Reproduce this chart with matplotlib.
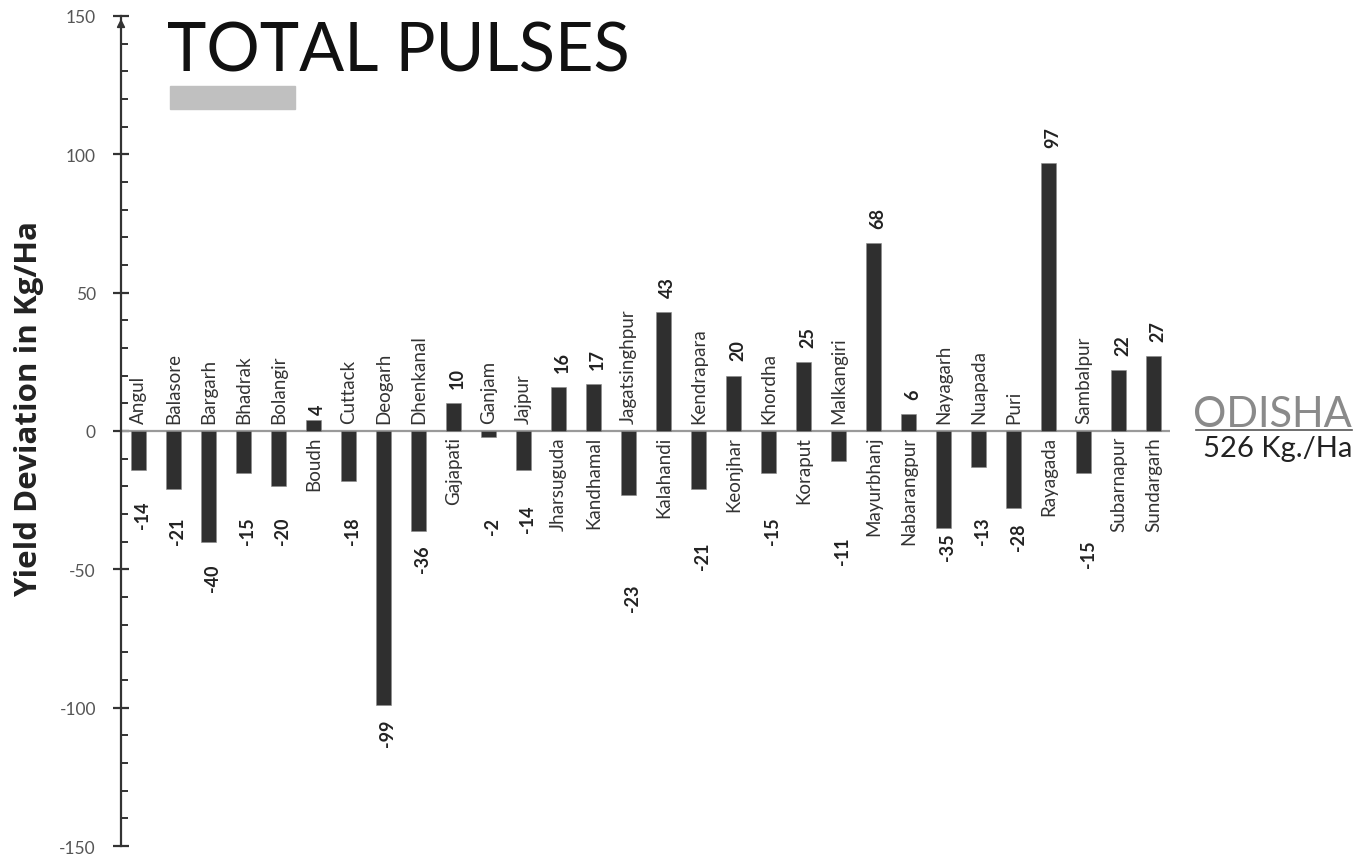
import matplotlib
matplotlib.use("Agg")
import matplotlib.pyplot as plt
from matplotlib.patches import Rectangle
from matplotlib.ticker import MultipleLocator
import numpy as np

plt.rcParams["axes.unicode_minus"] = False

# district-wise yield deviation from state average (Kg/Ha)
districts = ["Angul", "Balasore", "Bargarh", "Bhadrak", "Bolangir", "Boudh",
             "Cuttack", "Deogarh", "Dhenkanal", "Gajapati", "Ganjam", "Jajpur",
             "Jharsuguda", "Kandhamal", "Jagatsinghpur", "Kalahandi",
             "Kendrapara", "Keonjhar", "Khordha", "Koraput", "Malkangiri",
             "Mayurbhanj", "Nabarangpur", "Nayagarh", "Nuapada", "Puri",
             "Rayagada", "Sambalpur", "Subarnapur", "Sundargarh"]
deviation = [-14, -21, -40, -15, -20, 4, -18, -99, -36, 10, -2, -14,
             16, 17, -23, 43, -21, 20, -15, 25, -11, 68, 6, -35, -13, -28,
             97, -15, 22, 27]
state_name = "ODISHA"
state_avg = "526 Kg./Ha"
title = "TOTAL PULSES"
ylabel = "Yield Deviation in Kg/Ha"

W, H = 1367, 862
fig = plt.figure(figsize=(W / 100, H / 100), dpi=100)
fig.patch.set_facecolor("white")

def fx(px):
    return px / W

def fy(py):
    return 1 - py / H

# axes box: y axis at x=121px, -150..150 maps 847..17 px
ax = fig.add_axes([fx(121), fy(847), fx(1170) - fx(121), fy(17) - fy(847)])
ax.set_ylim(-150, 150)
n = len(districts)
step = 35.02
ax.set_xlim((121 - 138.3) / step, (1170 - 138.3) / step)

x = np.arange(n)
ax.bar(x, deviation, width=0.43, color="#2f2f2f", edgecolor="#8a8a8a",
       linewidth=0.4, zorder=3)
ax.axhline(0, color="#9a9a9a", lw=1.6, zorder=2)

for s in ["top", "right", "bottom"]:
    ax.spines[s].set_visible(False)
ax.spines["left"].set_color("#333333")
ax.spines["left"].set_linewidth(1.6)
ax.set_xticks([])
ax.yaxis.set_major_locator(MultipleLocator(50))
ax.yaxis.set_minor_locator(MultipleLocator(10))
ax.tick_params(axis="y", which="major", direction="inout", length=12,
               width=1.6, color="#333333", pad=12, labelsize=12.5,
               labelcolor="#555555")
ax.tick_params(axis="y", which="minor", direction="in", length=5,
               width=1.4, color="#333333")
for lab in ax.get_yticklabels():
    lab.set_fontfamily("Lato")

# arrow head on the top of the y axis
ax.annotate("", xy=(0, 1.0), xytext=(0, 0.975), xycoords="axes fraction",
            arrowprops=dict(arrowstyle="-|>", color="#333333", lw=1.2,
                            mutation_scale=12), annotation_clip=False)

# small manual adjustments of the value labels (as in the original layout)
nudge = {"Angul": 6, "Jajpur": 4.5, "Jagatsinghpur": -24, "Kendrapara": -9,
         "Malkangiri": -7, "Sambalpur": -8, "Boudh": -3.4, "Bargarh": -3,
         "Nayagarh": 3.5}

for i, (name, v) in enumerate(zip(districts, deviation)):
    if v < 0:
        ax.text(i, 3.0, name, rotation=90, rotation_mode="anchor",
                ha="left", va="center", fontsize=13.5, family="Lato",
                color="#333333", zorder=4)
        yv = min(v - 5, -31) + nudge.get(name, 0)
        ax.text(i + 0.12, yv, str(v), rotation=90, rotation_mode="anchor",
                ha="right", va="center", fontsize=13, family="Lato",
                fontweight="bold", color="#222222", zorder=4)
    else:
        ax.text(i, -1.8, name, rotation=90, rotation_mode="anchor",
                ha="right", va="center", fontsize=13.5, family="Lato",
                color="#333333", zorder=4)
        yv = v + 5.5 + nudge.get(name, 0)
        ax.text(i + 0.12, yv, str(v), rotation=90, rotation_mode="anchor",
                ha="left", va="center", fontsize=13, family="Lato",
                fontweight="bold", color="#222222", zorder=4)

fig.text(fx(37), fy(409), ylabel, rotation=90, ha="center", va="baseline",
         rotation_mode="anchor", fontsize=22.5, family="Open Sans",
         fontweight="bold", color="#222222")

# title block
fig.text(fx(167), fy(72), title, ha="left", va="baseline", fontsize=48,
         family="Lato", color="#111111")
fig.patches.append(Rectangle((fx(170), fy(110)), fx(295) - fx(170),
                             fy(87) - fy(110), transform=fig.transFigure,
                             color="#c0c0c0", zorder=1))

# state average box on the right
fig.text(fx(1352), fy(427), state_name, ha="right", va="baseline",
         fontsize=30, family="Lato", color="#8a8a8a")
fig.lines.append(plt.Line2D([fx(1196), fx(1352)], [fy(431), fy(431)],
                            transform=fig.transFigure, color="#555555",
                            lw=1.2))
fig.text(fx(1352), fy(457), state_avg, ha="right", va="baseline",
         fontsize=21, family="Lato", color="#222222")

fig.savefig("out.png", dpi=100)
